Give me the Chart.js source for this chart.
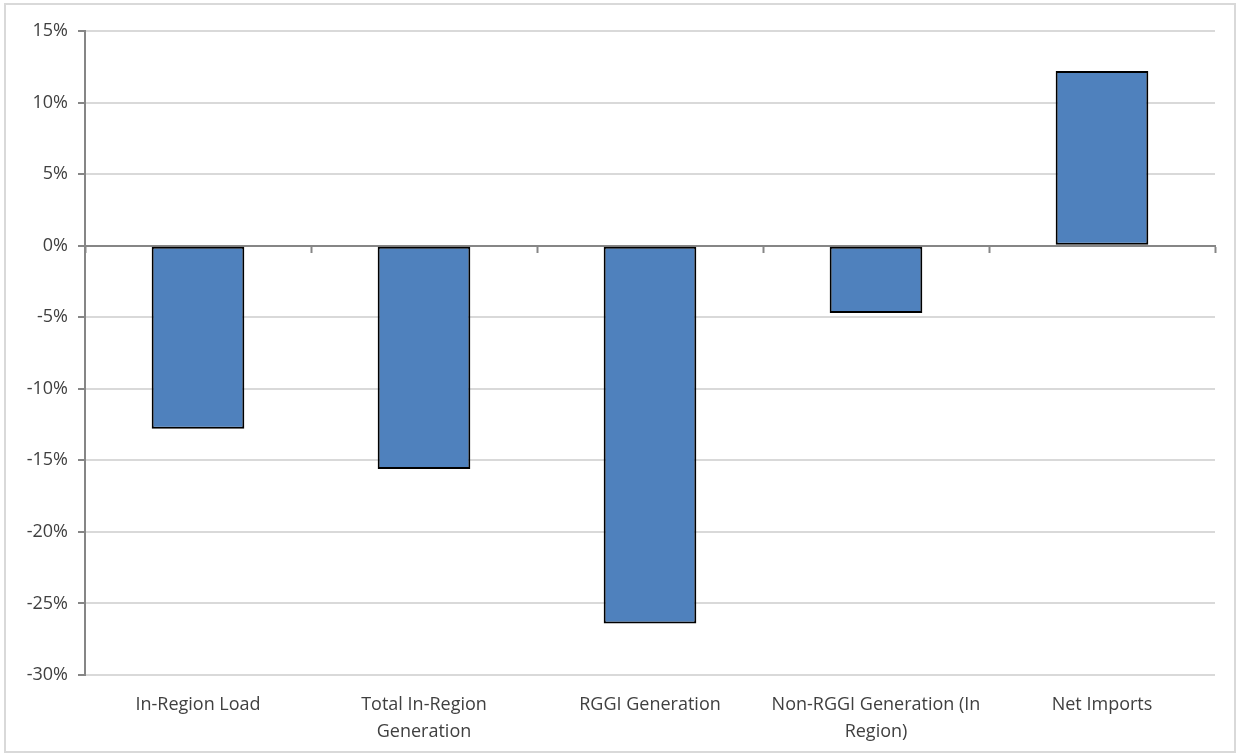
<!DOCTYPE html>
<html>
<head>
<meta charset="utf-8">
<script src="https://cdn.jsdelivr.net/npm/chart.js@4/dist/chart.umd.min.js"></script>
<style>
    html, body { margin: 0; padding: 0; background: #fff; }
    #kader {
        position: absolute; left: 4px; top: 3px;
        width: 1232px; height: 750px;
        border: 2px solid #d9d9d9; box-sizing: border-box;
    }
    #grafiek { position: absolute; left: 0; top: 0; }
</style>
</head>
<body>
<div id="kader"></div>
<canvas id="grafiek" width="1238" height="755"></canvas>
<script>
// categorieen en waarden (procentuele verandering)
const categories = [
    'In-Region Load',
    ['Total In-Region', 'Generation'],
    'RGGI Generation',
    ['Non-RGGI Generation (In', 'Region)'],
    'Net Imports'
];
const values = [-12.8, -15.6, -26.4, -4.7, 12.2];
const yTicks = [15, 10, 5, 0, -5, -10, -15, -20, -25, -30];

const tekstKleur = '#404040';
const lettertype = { family: "'Open Sans', 'Noto Sans', sans-serif", size: 18, lineHeight: 1.5 };

const ctx = document.getElementById('grafiek').getContext('2d');
new Chart(ctx, {
    type: 'bar',
    data: {
        labels: categories,
        datasets: [{
            data: values,
            backgroundColor: '#4f81bd',
            borderColor: '#000000',
            borderWidth: 2,
            borderSkipped: false,
            barPercentage: 0.41,
            categoryPercentage: 1
        }]
    },
    options: {
        responsive: false,
        animation: false,
        plugins: {
            legend: { display: false },
            tooltip: { enabled: false }
        },
        layout: { padding: { top: 31, right: 23, bottom: 2, left: 10 } },
        scales: {
            x: {
                position: 'bottom',
                grid: { display: false },
                border: { display: false },
                ticks: {
                    color: tekstKleur,
                    font: lettertype,
                    maxRotation: 0,
                    autoSkip: false,
                    padding: 8
                }
            },
            // nullijn met streepjes tussen de categorieen
            x2: {
                type: 'category',
                labels: categories,
                position: { y: 0 },
                offset: true,
                z: 1,
                grid: {
                    offset: true,
                    drawOnChartArea: false,
                    drawTicks: true,
                    tickLength: 6,
                    tickColor: '#868686',
                    tickWidth: 2
                },
                border: { color: '#868686', width: 2 },
                ticks: { display: false }
            },
            y: {
                min: -30,
                max: 15,
                afterBuildTicks: axis => {
                    axis.ticks = yTicks.map(v => ({ value: v }));
                },
                afterFit: axis => { axis.width = 75; },
                grid: {
                    color: '#d9d9d9',
                    lineWidth: 2,
                    tickLength: 7,
                    tickColor: '#868686',
                    tickWidth: 2
                },
                border: { color: '#868686', width: 2 },
                ticks: {
                    color: tekstKleur,
                    font: { family: lettertype.family, size: 18 },
                    padding: 10,
                    callback: v => v + '%'
                }
            }
        }
    }
});
</script>
</body>
</html>
